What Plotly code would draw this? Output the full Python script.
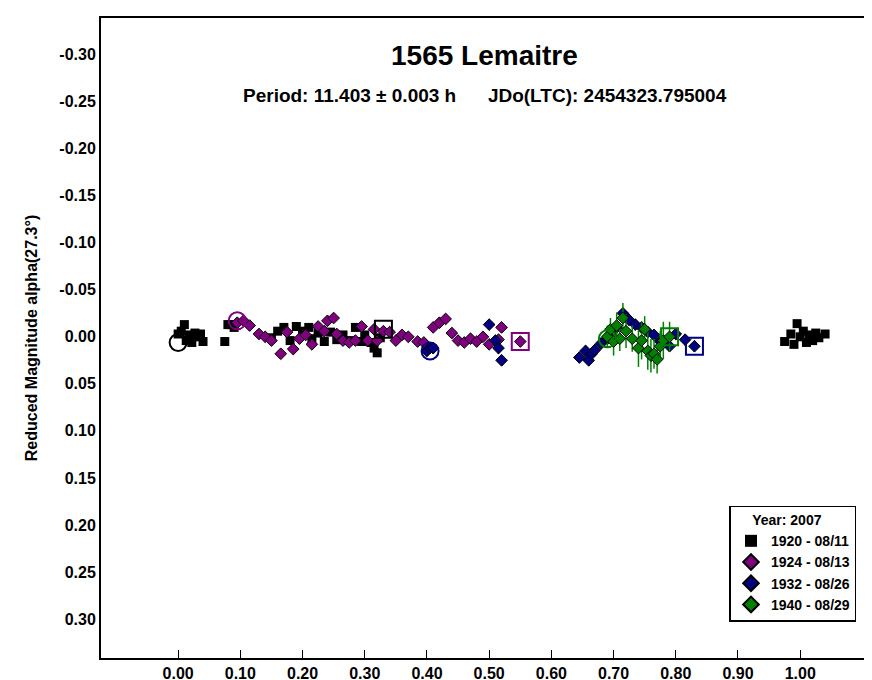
import plotly.graph_objects as go

# session 1920 - 08/11 (black squares)
p1920 = [0.000, 0.005, 0.010, 0.013, 0.018, 0.022, 0.027, 0.031, 0.036, 0.040, 0.075, 0.080, 0.085, 0.090,
         0.150, 0.160, 0.170, 0.180, 0.190, 0.200, 0.210, 0.215, 0.225, 0.235, 0.245, 0.255, 0.265,
         0.275, 0.285, 0.295, 0.300, 0.310, 0.315, 0.320, 0.325]
m1920 = [-0.003, -0.006, -0.013, 0.004, -0.002, 0.006, -0.004, 0.000, -0.003, 0.005, 0.005, -0.013, -0.013, -0.010,
         0.001, -0.006, -0.010, 0.004, -0.011, -0.006, -0.010, 0.002, -0.004, 0.005, -0.005, 0.003, -0.002,
         0.004, -0.010, 0.005, -0.002, 0.006, 0.012, 0.017, 0.001]
e1920 = [0.002] * len(p1920)
# repeated part of the same session beyond phase 1
p1920b = [0.975, 0.985, 0.990, 0.995, 1.000, 1.005, 1.010, 1.015, 1.020, 1.025, 1.030, 1.040]
m1920b = [0.005, -0.003, 0.008, -0.014, 0.000, -0.006, 0.006, -0.002, 0.004, -0.004, 0.001, -0.003]

p1924 = [0.095, 0.105, 0.115, 0.130, 0.140, 0.150, 0.165, 0.175, 0.185, 0.195, 0.205, 0.215, 0.225,
         0.235, 0.240, 0.250, 0.255, 0.265, 0.275, 0.285, 0.295, 0.305, 0.315, 0.320, 0.330, 0.340,
         0.350, 0.360, 0.370, 0.385, 0.395, 0.410, 0.420, 0.430, 0.440, 0.450, 0.460, 0.470, 0.480,
         0.490, 0.500, 0.515, 0.520, 0.550]
m1924 = [-0.015, -0.017, -0.012, -0.003, 0.000, 0.004, 0.018, -0.005, 0.013, 0.002, -0.002, 0.008,
         -0.011, -0.006, -0.017, -0.020, -0.003, 0.004, 0.006, 0.004, -0.011, 0.004, -0.008, 0.004, -0.006,
         -0.005, 0.004, -0.002, 0.000, 0.005, 0.006, -0.010, -0.015, -0.019, -0.004, 0.004, 0.006, 0.002,
         0.005, 0.000, 0.008, 0.003, -0.010, 0.005]
e1924 = [0.004] * len(p1924)

p1932 = [0.400, 0.405, 0.410, 0.500, 0.510, 0.515, 0.520, 0.645, 0.655, 0.660, 0.665, 0.670, 0.680,
         0.690, 0.695, 0.705, 0.715, 0.720, 0.725, 0.735, 0.745, 0.755, 0.765, 0.775, 0.790, 0.800,
         0.815, 0.830]
m1932 = [0.015, 0.012, 0.012, -0.013, 0.004, 0.012, 0.025, 0.022, 0.015, 0.025, 0.018, 0.014, 0.007,
         0.002, -0.003, -0.010, -0.025, -0.021, -0.018, -0.013, -0.010, -0.005, -0.002, 0.005, 0.010,
         -0.003, 0.003, 0.010]
e1932 = [0.006] * len(p1932)

p1940 = [0.690, 0.695, 0.700, 0.705, 0.710, 0.715, 0.720, 0.730, 0.740, 0.745, 0.750, 0.755, 0.760,
         0.765, 0.770, 0.775, 0.780, 0.790]
m1940 = [0.000, -0.008, 0.005, -0.012, 0.002, -0.020, -0.006, 0.002, 0.012, 0.004, -0.008, 0.015,
         0.020, 0.018, 0.024, 0.010, 0.004, 0.000]
e1940 = [0.012, 0.012, 0.015, 0.014, 0.013, 0.016, 0.018, 0.014, 0.020, 0.020, 0.014, 0.020,
         0.018, 0.016, 0.015, 0.016, 0.020, 0.016]

# session start (circle) and end (square) markers
start_x = [0.000, 0.095, 0.405, 0.690]
start_y = [0.006, -0.017, 0.015, 0.002]
end_x = [0.330, 0.550, 0.830, 0.790]
end_y = [-0.008, 0.005, 0.010, 0.000]
colors = ['black', 'purple', 'navy', 'green']

x_ticks = [i / 10 for i in range(11)]
y_ticks = [i / 100 for i in range(-30, 31, 5)]

fig = go.Figure()

def err(e, c):
    return dict(type='data', array=e, color=c, thickness=1.5, width=0)

fig.add_trace(go.Scatter(x=p1920, y=m1920, mode='markers', name='<b>1920 - 08/11</b>',
                         marker=dict(symbol='square', size=9, color='black'), error_y=err(e1920, 'black')))
fig.add_trace(go.Scatter(x=p1920b, y=m1920b, mode='markers', showlegend=False,
                         marker=dict(symbol='square', size=9, color='black'), error_y=err([0.002] * len(p1920b), 'black')))
fig.add_trace(go.Scatter(x=p1924, y=m1924, mode='markers', name='<b>1924 - 08/13</b>',
                         marker=dict(symbol='diamond', size=9, color='purple', line=dict(color='black', width=1)),
                         error_y=err(e1924, 'purple')))
fig.add_trace(go.Scatter(x=p1932, y=m1932, mode='markers', name='<b>1932 - 08/26</b>',
                         marker=dict(symbol='diamond', size=9, color='navy', line=dict(color='black', width=1)),
                         error_y=err(e1932, 'navy')))
fig.add_trace(go.Scatter(x=p1940, y=m1940, mode='markers', name='<b>1940 - 08/29</b>',
                         marker=dict(symbol='diamond', size=9, color='green', line=dict(color='black', width=1)),
                         error_y=err(e1940, 'green')))
fig.add_trace(go.Scatter(x=start_x, y=start_y, mode='markers', showlegend=False,
                         marker=dict(symbol='circle-open', size=17, color=colors, line=dict(width=2))))
fig.add_trace(go.Scatter(x=end_x, y=end_y, mode='markers', showlegend=False,
                         marker=dict(symbol='square-open', size=17, color=colors, line=dict(width=2))))

font = 'Liberation Sans, Arial, sans-serif'
fig.update_layout(
    width=872, height=680,
    margin=dict(l=93, r=12, t=10, b=30),
    plot_bgcolor='white', paper_bgcolor='white',
    font=dict(family=font, size=16, color='black'),
    showlegend=True,
    legend=dict(x=0.985, y=0.057, xanchor='right', yanchor='bottom', bordercolor='black', borderwidth=1.5,
                title=dict(text='<b>     Year: 2007</b>', font=dict(size=14)),
                font=dict(size=14), tracegroupgap=0, itemsizing='constant'),
    annotations=[
        dict(text='<b>1565 Lemaitre</b>', x=0.5, y=(650 - 47) / 640, xref='paper', yref='paper', showarrow=False,
             yanchor='middle', font=dict(size=28)),
        dict(text='<b>Period: 11.403 ± 0.003 h      JDo(LTC): 2454323.795004</b>', x=0.5, y=(650 - 87) / 640,
             xref='paper', yref='paper', showarrow=False, yanchor='middle', font=dict(size=19)),
    ],
)
fig.update_xaxes(range=[-0.124, 1.109], tickvals=x_ticks, ticktext=[f'<b>{v:.2f}</b>' for v in x_ticks],
                 ticks='inside', ticklen=8, tickcolor='black', showgrid=False, zeroline=False,
                 showline=True, linecolor='black', linewidth=2, mirror=True, automargin=False,
                 tickfont=dict(size=16, family=font))
fig.update_yaxes(range=[0.3415, -0.339], tickvals=y_ticks,
                 ticktext=[f'<b>{v:.2f}</b>'.replace('-0.00', '0.00') for v in y_ticks],
                 ticks='', showgrid=False, zeroline=False, automargin=False,
                 showline=True, linecolor='black', linewidth=2, mirror=True,
                 title=dict(text='<b>Reduced Magnitude alpha(27.3°)</b>', font=dict(size=16), standoff=18),
                 tickfont=dict(size=16, family=font))

fig.write_html("out.html")
